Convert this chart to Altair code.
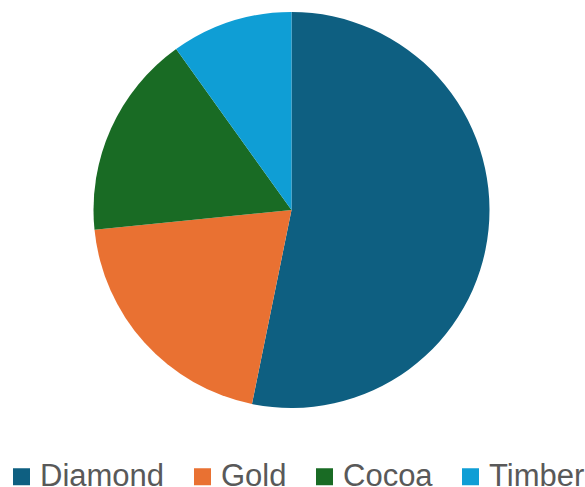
import altair as alt
import pandas as pd

categories = ["Diamond", "Gold", "Cocoa", "Timber"]
values = [53.2, 20.2, 16.7, 9.9]
colors = ["#0E5F81", "#E97132", "#196B24", "#0F9ED5"]

df = pd.DataFrame({"category": categories, "value": values, "idx": list(range(len(categories)))})

chart = alt.Chart(df).mark_arc(radius=198, strokeWidth=0).encode(
    theta=alt.Theta("value:Q", stack=True),
    order=alt.Order("idx:Q"),
    x=alt.value(291.5),
    y=alt.value(210),
    color=alt.Color(
        "category:N",
        scale=alt.Scale(domain=categories, range=colors),
        sort=categories,
        legend=alt.Legend(
            title=None,
            orient="none",
            legendX=6,
            legendY=461,
            padding=0,
            direction="horizontal",
            symbolType="square",
            symbolSize=289,
            symbolStrokeWidth=0,
            labelFontSize=31,
            labelFont="Liberation Sans",
            labelColor="#595959",
            labelOffset=3,
            columnPadding=22,
            labelLimit=300,
        ),
    ),
).properties(
    width=585,
    height=487,
    autosize=alt.AutoSizeParams(type="none"),
    padding=0,
).configure_view(stroke=None)

chart.save("out.html", embed_options={"renderer": "svg", "actions": False})
